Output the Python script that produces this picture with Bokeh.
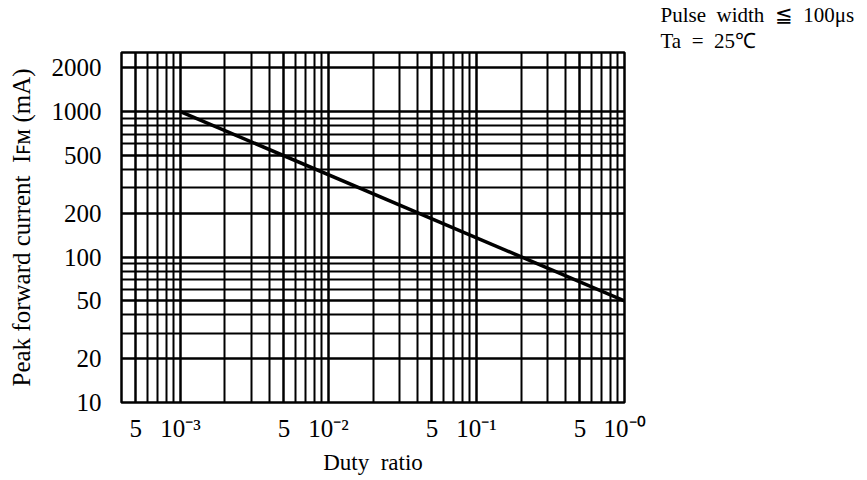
import math
from bokeh.plotting import figure
from bokeh.models import FixedTicker, Title
from bokeh.embed import file_html
from bokeh.resources import INLINE

# ---- data ----
duty = [1.0e-3, 1.0]
current = [1000, 50]

x_ticks = [5e-4, 1e-3, 5e-3, 1e-2, 5e-2, 1e-1, 5e-1, 1.0]
x_tick_labels = ["5", "10⁻³", "5", "10⁻²", "5", "10⁻¹", "5", "10⁻⁰"]
y_ticks = [10, 20, 50, 100, 200, 500, 1000, 2000]
y_tick_labels = ["10", "20", "50", "100", "200", "500", "1000", "2000"]
x_minor = [m * 10.0 ** e for e in (-4, -3, -2, -1) for m in range(1, 10)] + [1.0]
y_minor = [m * 10.0 ** e for e in (1, 2, 3) for m in range(1, 10)]

SP = "\u00a0 "  # visually doubled space
x_title = "Duty" + SP + "ratio"
y_title = "Peak forward current" + SP + "Iꜰᴍ (mA)"
cond_1 = "Pulse" + SP + "width" + SP + "≦" + SP + "100μs"
cond_2 = "Ta" + SP + "=" + SP + "25℃"

X0, X1 = 4e-4, 1.0
Y0, Y1 = 10, 2550

W, H = 867, 480
FL, FR, FT, FB = 121, 624, 52, 402
FONT = "Liberation Serif"

p = figure(width=W, height=H, x_axis_type="log", y_axis_type="log",
           x_range=(X0, X1), y_range=(Y0, Y1),
           output_backend="svg", toolbar_location=None,
           min_border_left=FL, min_border_right=W - FR,
           min_border_top=FT, min_border_bottom=H - FB)
p.background_fill_color = "white"
p.border_fill_color = "white"
p.outline_line_color = "black"
p.outline_line_width = 2.5

p.xaxis.ticker = FixedTicker(ticks=x_ticks, minor_ticks=x_minor)
p.yaxis.ticker = FixedTicker(ticks=y_ticks, minor_ticks=y_minor)
p.xaxis.major_label_overrides = {t: l for t, l in zip(x_ticks, x_tick_labels)}
p.yaxis.major_label_overrides = {t: l for t, l in zip(y_ticks, y_tick_labels)}

for ax in (p.xaxis, p.yaxis):
    ax.axis_line_color = None
    ax.major_tick_line_color = None
    ax.minor_tick_line_color = None
    ax.major_tick_in = 0
    ax.major_tick_out = 0
    ax.minor_tick_in = 0
    ax.minor_tick_out = 0
    ax.major_label_text_font = FONT
    ax.major_label_text_font_size = "25px"
    ax.major_label_text_color = "black"
    ax.axis_label_text_font = FONT
    ax.axis_label_text_font_style = "normal"
    ax.axis_label_text_color = "black"
p.yaxis.major_label_standoff = 20
p.xaxis.major_label_standoff = 12
p.xaxis.axis_label = x_title
p.xaxis.axis_label_text_font_size = "23px"
p.xaxis.axis_label_standoff = 5
p.yaxis.axis_label = y_title
p.yaxis.axis_label_text_font_size = "25px"
p.yaxis.axis_label_standoff = 14

for g in (p.xgrid, p.ygrid):
    g.grid_line_color = "black"
    g.grid_line_width = 2
    g.grid_line_alpha = 1.0
    g.minor_grid_line_color = "black"
    g.minor_grid_line_width = 2
    g.minor_grid_line_alpha = 1.0

p.line(duty, current, line_color="black", line_width=3.5)

# condition notes above the frame, shifted to the right of it
for txt in (cond_2, cond_1):
    p.add_layout(Title(text=txt, align="left", offset=660 - FL,
                       text_font=FONT, text_font_size="21px",
                       text_font_style="normal", text_color="black",
                       standoff=0), "above")

open("out.html", "w").write(file_html(p, INLINE))
